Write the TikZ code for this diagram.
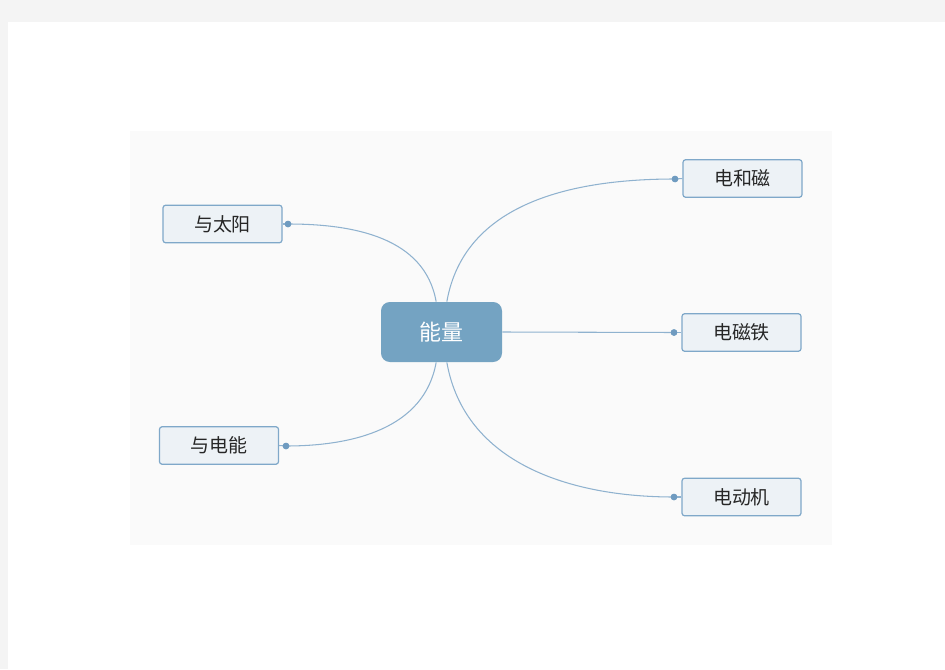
\documentclass[tikz,border=0pt]{standalone}
\usepackage{fontspec}
\setmainfont{Noto Sans CJK SC}
\definecolor{pagegray}{HTML}{F4F4F4}
\definecolor{panel}{HTML}{FAFAFA}
\definecolor{mainblue}{HTML}{74A3C2}
\definecolor{linkblue}{HTML}{8FB2CF}
\definecolor{dotblue}{HTML}{6F9BC0}
\definecolor{leaffill}{HTML}{EDF2F6}
\definecolor{leafline}{HTML}{7FA8C9}
\tikzset{
  topic/.style={fill=mainblue, rounded corners=5pt, minimum width=2.42cm, minimum height=1.2cm, text=white, font=\fontsize{12.5}{14}\selectfont},
  leaf/.style={draw=leafline, fill=leaffill, line width=0.7pt, rounded corners=1.5pt, minimum width=2.38cm, minimum height=0.75cm, text=black!85, font=\fontsize{10.8}{12}\selectfont},
  knob/.style={circle, fill=dotblue, inner sep=0pt, minimum size=0.13cm},
  link/.style={draw=linkblue, line width=0.6pt}
}
\begin{document}
\begin{tikzpicture}
    \fill[pagegray] (0, 0) rectangle (18.9, 13.38);
    \fill[white] (0.16, 0) rectangle (18.9, 12.94);
    \fill[panel] (2.6, 2.48) rectangle (16.64, 10.76);
    \useasboundingbox (0, 0) rectangle (18.9, 13.38);
                \node[topic] (0) at (8.83, 6.74) {能量};
                \node[leaf] (1) at (4.45, 8.9) {与太阳};
                \node[leaf] (2) at (4.38, 4.47) {与电能};
                \node[leaf] (3) at (14.85, 9.81) {电和磁};
                \node[leaf] (4) at (14.83, 6.73) {电磁铁};
                \node[leaf] (5) at (14.83, 3.44) {电动机};
                \node[knob] (6) at (5.76, 8.9) {};
                \node[knob] (7) at (5.72, 4.46) {};
                \node[knob] (8) at (13.5, 9.8) {};
                \node[knob] (9) at (13.48, 6.73) {};
                \node[knob] (10) at (13.48, 3.44) {};
                \draw[link] (0.100) to[out=100, in=0] (6.center);
                \draw[link] (0.260) to[out=260, in=0] (7.center);
                \draw[link] (0.80) to[out=80, in=180] (8.center);
                \draw[link] (0.east) to (9.center);
                \draw[link] (0.280) to[out=280, in=180] (10.center);
                \draw[link] (6.center) to (1.east);
                \draw[link] (7.center) to (2.east);
                \draw[link] (8.center) to (3.west);
                \draw[link] (9.center) to (4.west);
                \draw[link] (10.center) to (5.west);
                \node[knob] at (6) {};
                \node[knob] at (7) {};
                \node[knob] at (8) {};
                \node[knob] at (9) {};
                \node[knob] at (10) {};
    \end{tikzpicture}
\end{document}
